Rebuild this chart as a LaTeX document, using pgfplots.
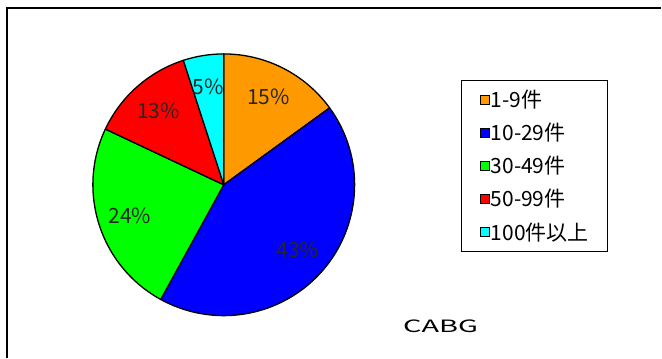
\documentclass[border=0pt]{standalone}
\usepackage{pgfplots}
\pgfplotsset{compat=1.18}
\usepackage{pgfplotstable}
\usepackage{fontspec}
\setmainfont{Noto Sans CJK JP}

\definecolor{pieorange}{HTML}{FF9900}
\definecolor{pieblue}{HTML}{0000FF}
\definecolor{piegreen}{HTML}{00FF00}
\definecolor{piered}{HTML}{FF0000}
\definecolor{piecyan}{HTML}{00FFFF}

% share of cases (percent), clockwise from 12 o'clock
\pgfplotstableread{
value color
15 pieorange
43 pieblue
24 piegreen
13 piered
5 piecyan
}\piedata

\begin{document}
\begin{tikzpicture}
\begin{axis}[
  scale only axis, width=662pt, height=358pt,
  xmin=0, xmax=662, ymin=0, ymax=358,
  hide axis, clip=false,
  legend cell align=left,
  legend image code/.code={\draw[#1,line width=0.8pt] (0pt,-4.5pt) rectangle (9pt,4.5pt);},
  legend style={at={(axis cs:462,278)}, anchor=north west, draw=black, line width=1pt,
    font=\fontsize{21}{21}\selectfont, row sep=10pt, inner xsep=18pt, inner ysep=8pt,
    nodes={inner xsep=1pt}},
]
\addlegendimage{fill=pieorange,draw=black}
\addlegendentry{1-9件}
\addlegendimage{fill=pieblue,draw=black}
\addlegendentry{10-29件}
\addlegendimage{fill=piegreen,draw=black}
\addlegendentry{30-49件}
\addlegendimage{fill=piered,draw=black}
\addlegendentry{50-99件}
\addlegendimage{fill=piecyan,draw=black}
\addlegendentry{100件以上}

\pgfplotsextra{
  % keep the whole canvas in the picture
  \path (axis cs:0,0) rectangle (axis cs:662,358);
  \gdef\startangle{90}
  \foreach \i in {0,...,4}{
    \pgfplotstablegetelem{\i}{value}\of\piedata \let\val\pgfplotsretval
    \pgfplotstablegetelem{\i}{color}\of\piedata \let\col\pgfplotsretval
    \pgfmathsetmacro\endangle{\startangle-3.6*\val}
    \pgfmathsetmacro\midangle{(\startangle+\endangle)/2}
    \fill[fill=\col, draw=black, line width=1.3pt, line join=round]
      (axis cs:224,173) -- ++(\startangle:131pt)
      arc[start angle=\startangle, end angle=\endangle, radius=131pt] -- cycle;
    \node[font=\fontsize{21}{21}\selectfont, text=black!85]
      at ([shift={(\midangle:99pt)}]axis cs:224,173) {\val\%};
    \xdef\startangle{\endangle}
  }
  % outer frame
  \draw[line width=1.5pt] (axis cs:7,0) -- (axis cs:7,350) -- (axis cs:662,350);
  \node[font=\fontsize{17}{17}\selectfont, xscale=1.7] at (axis cs:441,31) {CABG};
}
\end{axis}
\end{tikzpicture}
\end{document}
